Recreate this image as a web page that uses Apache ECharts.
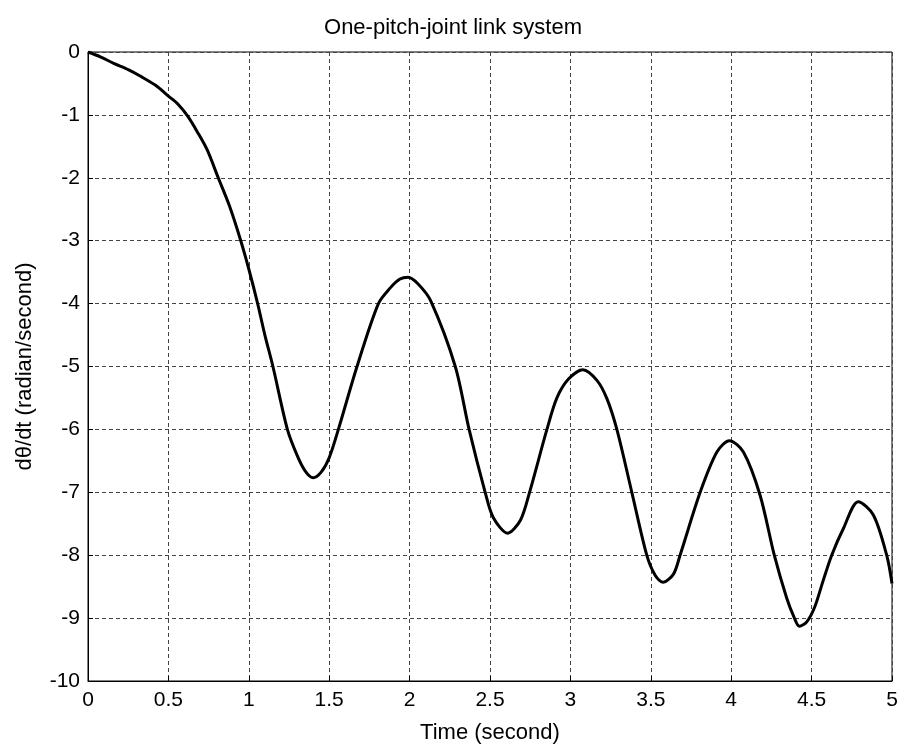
<!DOCTYPE html>
<html>
<head>
<meta charset="utf-8">
<title>One-pitch-joint link system</title>
<script src="https://cdn.jsdelivr.net/npm/echarts@6/dist/echarts.min.js"></script>
<style>
  html, body { margin: 0; padding: 0; background: #fff; }
  #chart { width: 906px; height: 749px; }
</style>
</head>
<body>
<div id="chart"></div>
<script>
// values (time in s, angular rate in rad/s)
var times = [0, 0.08, 0.16, 0.25, 0.33, 0.42, 0.5, 0.56, 0.62, 0.68, 0.74, 0.81, 0.88, 0.95, 1.0, 1.055, 1.1, 1.15,
  1.24, 1.3, 1.35, 1.4, 1.45, 1.5, 1.557, 1.673, 1.806, 1.88, 1.94, 1.99, 2.05, 2.13, 2.284,
  2.37, 2.47, 2.52, 2.61, 2.69, 2.746, 2.854, 2.916, 2.988, 3.078, 3.165, 3.227, 3.289, 3.382,
  3.475, 3.527, 3.575, 3.641, 3.682, 3.807, 3.911, 3.989, 4.076, 4.18, 4.268, 4.345, 4.39, 4.424,
  4.47, 4.52, 4.57, 4.625, 4.697, 4.79, 4.884, 4.967, 5.0];
var rates = [0, -0.08, -0.18, -0.28, -0.39, -0.53, -0.7, -0.83, -1.02, -1.27, -1.55, -2.0, -2.45, -3.0, -3.45, -4.0, -4.5, -5.0,
  -6.0, -6.41, -6.66, -6.77, -6.68, -6.45, -6.0, -5.0, -4.0, -3.75, -3.61, -3.58, -3.68, -3.95, -5.0,
  -6.0, -7.0, -7.4, -7.65, -7.44, -7.0, -6.0, -5.5, -5.2, -5.05, -5.22, -5.51, -6.0, -7.0,
  -8.0, -8.32, -8.43, -8.3, -8.0, -7.0, -6.36, -6.18, -6.36, -7.05, -8.0, -8.68, -8.98, -9.13,
  -9.06, -8.82, -8.42, -8.0, -7.58, -7.15, -7.36, -8.0, -8.45];

var titleText = 'One-pitch-joint link system';
var xName = 'Time (second)';
var yName = 'd\u03b8/dt (radian/second)';

var fontName = '"Liberation Sans", Arial, sans-serif';
var gridLine = { show: true, lineStyle: { color: '#444', width: 1, type: [4, 3] } };

var points = times.map(function (t, i) { return [t, rates[i]]; });

var myChart = echarts.init(document.getElementById('chart'));
myChart.setOption({
  animation: false,
  backgroundColor: '#fff',
  title: {
    text: titleText,
    left: 'center',
    top: 12,
    textStyle: { fontFamily: fontName, fontSize: 22, fontWeight: 'normal', color: '#000' }
  },
  grid: {
    left: 88, right: 14, top: 52, bottom: 66,
    show: true, borderColor: '#000', borderWidth: 1
  },
  xAxis: {
    type: 'value',
    min: 0, max: 5, interval: 0.5,
    name: xName,
    nameLocation: 'middle',
    nameGap: 41,
    nameTextStyle: { fontFamily: fontName, fontSize: 22, color: '#000' },
    axisLine: { show: true, onZero: false, lineStyle: { color: '#000', width: 1 } },
    axisTick: { show: true, inside: true, length: 5, lineStyle: { color: '#000' } },
    axisLabel: { fontFamily: fontName, fontSize: 21, color: '#000', margin: 9 },
    splitLine: gridLine
  },
  yAxis: {
    type: 'value',
    min: -10, max: 0, interval: 1,
    name: yName,
    nameLocation: 'middle',
    nameGap: 52,
    nameTextStyle: { fontFamily: fontName, fontSize: 22, color: '#000' },
    axisLine: { show: true, onZero: false, lineStyle: { color: '#000', width: 1 } },
    axisTick: { show: true, inside: true, length: 5, lineStyle: { color: '#000' } },
    axisLabel: { fontFamily: fontName, fontSize: 21, color: '#000', margin: 8 },
    splitLine: gridLine
  },
  series: [{
    type: 'line',
    data: points,
    smooth: 0.3,
    showSymbol: false,
    lineStyle: { color: '#000', width: 3 }
  }]
});
</script>
</body>
</html>
